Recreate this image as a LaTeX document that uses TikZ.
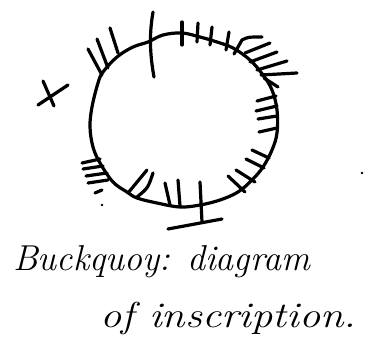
\documentclass[tikz,border=0pt]{standalone}
\begin{document}
\begin{tikzpicture}[x=1pt,y=-1pt,
  ink/.style={line width=3.2pt,line cap=round,line join=round},
  hand/.style={inner sep=0pt,font=\fontsize{36}{42}\selectfont\itshape}]
\useasboundingbox (0,0) rectangle (367,345);
% ring
\draw[ink] plot[smooth cycle,tension=0.6] coordinates {
 (163,35) (182,33) (200,37) (217,42) (233,48) (250,60) (263,75) (272,90)
 (277,110) (277,133) (272,150) (263,167) (252,180) (238,192) (220,200)
 (200,205) (180,207) (157,203) (137,198) (127,192) (113,182) (100,163)
 (93,147) (90,127) (92,107) (98,83) (103,72) (117,57) (133,47) (148,42)};
% cross X
\draw[ink] (38,105) -- (68,85);
\draw[ink] (43,81) -- (54,106);
% upper left group
\draw[ink] (88,49) -- (102,75);
\draw[ink] (97,39) -- (108,68);
\draw[ink] (110,28) -- (118,53);
% long stem
\draw[ink] (153,12) .. controls (149,35) and (150,55) .. (154,77);
% top short ticks
\draw[ink] (182,22) -- (182,45);
\draw[ink] (198,23) -- (197,42);
\draw[ink] (212,27) -- (210,45);
\draw[ink] (229,32) -- (226,50);
% hook
\draw[ink] (234,54) -- (242,40) .. controls (248,37) .. (262,37);
% upper right outward strokes
\draw[ink] (245,53) -- (270,43);
\draw[ink] (250,62) -- (277,52);
\draw[ink] (257,70) -- (287,61);
\draw[ink] (261,75) -- (297,73);
\draw[ink] (264,78) -- (278,87);
% right inner strokes
\draw[ink] (257,101) -- (276,96);
\draw[ink] (256,111) -- (277,106);
\draw[ink] (258,119) -- (277,116);
\draw[ink] (259,132) -- (277,128);
% lower right strokes
\draw[ink] (252,150) -- (269,158);
\draw[ink] (246,159) -- (264,168);
\draw[ink] (236,170) -- (255,182);
\draw[ink] (228,176) -- (245,192);
% bottom
\draw[ink] (165,183) -- (170,205);
\draw[ink] (178,180) -- (180,206);
\draw[ink] (200,182) -- (202,222);
\draw[ink] (168,229) -- (222,219);
% lower left pair
\draw[ink] (128,193) -- (147,170);
\draw[ink] (137,197) .. controls (148,188) .. (153,173);
% left group
\draw[ink] (82,163) -- (100,159);
\draw[ink] (83,169) -- (103,166);
\draw[ink] (86,176) -- (107,173);
\draw[ink] (88,183) -- (108,180);
\draw[ink] (95,193) -- (102,190);
% dots
\fill (102,205) circle (1.3);
\fill (362,173) circle (1.3);
% caption
\node[hand,anchor=base west] (t1) at (13,270) {Buckquoy: diagram};
\node[hand,anchor=base west,xscale=1.18] (t2) at (100,327) {of inscription.};
\end{tikzpicture}
\end{document}
